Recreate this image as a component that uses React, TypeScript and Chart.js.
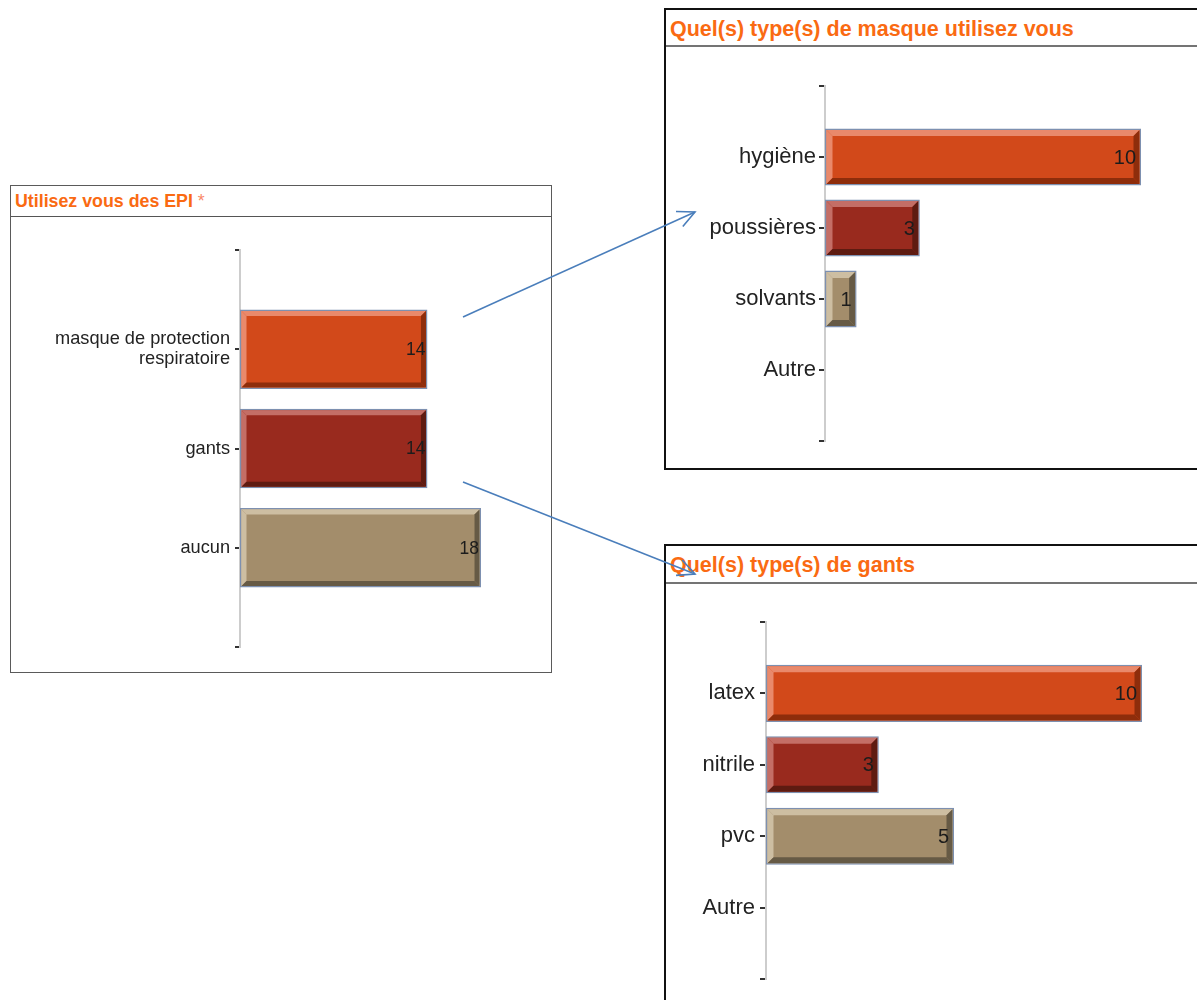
import React, { useEffect, useRef } from 'react';
import { Chart, registerables } from 'chart.js';

Chart.register(...registerables);

// ---------- data ----------
const epiTitle = 'Utilisez vous des EPI';
const epiCategories: (string | string[])[] = [['masque de protection', 'respiratoire'], 'gants', 'aucun'];
const epiValues = [14, 14, 18];

const masqueTitle = 'Quel(s) type(s) de masque utilisez vous';
const masqueCategories = ['hygiène', 'poussières', 'solvants', 'Autre'];
const masqueValues = [10, 3, 1, 0];

const gantsTitle = 'Quel(s) type(s) de gants';
const gantsCategories = ['latex', 'nitrile', 'pvc', 'Autre'];
const gantsValues = [10, 3, 5, 0];

// ---------- styles ----------
const FILL = ['#D2491A', '#992A1E', '#A38D6B', '#A38D6B'];
const LIGHT = ['#E9896B', '#C46E66', '#CDBEA2', '#CDBEA2'];
const DARK = ['#8E2D0B', '#5E1B11', '#665A45', '#665A45'];
const BAR_BORDER = '#7D90B0';
const FONT = '"Liberation Sans", Arial, Helvetica, sans-serif';
const TITLE_COLOR = '#FA6A12';

const bevelPlugin = {
  id: 'bevel',
  afterDatasetsDraw(chart: any, _args: any, opts: any) {
    const ctx = chart.ctx;
    const meta = chart.getDatasetMeta(0);
    const ds = chart.data.datasets[0];
    const b = opts.size;
    const bd = opts.border;
    meta.data.forEach((el: any, i: number) => {
      const p = el.getProps(['x', 'y', 'base', 'height'], true);
      const value = ds.data[i].x;
      const x0 = Math.min(p.base, p.x) + bd;
      const x1 = Math.max(p.base, p.x) - bd;
      const y0 = p.y - p.height / 2 + bd;
      const y1 = p.y + p.height / 2 - bd;
      if (x1 - x0 > 2 * b) {
        const poly = (pts: number[][], color: string) => {
          ctx.beginPath();
          ctx.moveTo(pts[0][0], pts[0][1]);
          for (let k = 1; k < pts.length; k++) ctx.lineTo(pts[k][0], pts[k][1]);
          ctx.closePath();
          ctx.fillStyle = color;
          ctx.fill();
        };
        ctx.save();
        poly([[x0, y0], [x1, y0], [x1 - b, y0 + b], [x0 + b, y0 + b]], LIGHT[i]);
        poly([[x0, y0], [x0 + b, y0 + b], [x0 + b, y1 - b], [x0, y1]], LIGHT[i]);
        poly([[x1, y0], [x1, y1], [x1 - b, y1 - b], [x1 - b, y0 + b]], DARK[i]);
        poly([[x0, y1], [x1, y1], [x1 - b, y1 - b], [x0 + b, y1 - b]], DARK[i]);
        ctx.restore();
      }
      if (value > 0) {
        ctx.save();
        ctx.font = `${opts.valueSize}px ${FONT}`;
        ctx.fillStyle = '#1c1c1c';
        ctx.textAlign = 'right';
        ctx.textBaseline = 'middle';
        ctx.fillText(String(value), Math.max(p.base, p.x) - opts.valuePad, p.y + 1);
        ctx.restore();
      }
    });
  },
};

type ChartProps = {
  categories: (string | string[])[];
  values: number[];
  left: number;
  top: number;
  width: number;
  height: number;
  axisWidth: number;
  padTop: number;
  padBottom: number;
  padRight: number;
  xMax: number;
  tickFont: number;
  tickLength: number;
  tickPadding: number;
  valueSize: number;
  valuePad: number;
  bevel: number;
};

function BarChart(props: ChartProps) {
  const ref = useRef<HTMLCanvasElement | null>(null);
  useEffect(() => {
    if (!ref.current) return;
    const cats = props.categories;
    const chart = new Chart(ref.current, {
      type: 'bar',
      data: {
        datasets: [
          {
            data: props.values.map((v, i) => ({ x: v, y: i })) as any,
            backgroundColor: FILL,
            borderColor: BAR_BORDER,
            borderWidth: 1.5,
            borderSkipped: false,
            categoryPercentage: 0.8,
            barPercentage: 1,
          },
        ],
      },
      options: {
        indexAxis: 'y',
        animation: false,
        responsive: false,
        devicePixelRatio: 1,
        layout: { padding: { left: 0, top: props.padTop, right: props.padRight, bottom: props.padBottom } },
        plugins: {
          legend: { display: false },
          tooltip: { enabled: false },
          bevel: { size: props.bevel, border: 1.5, valueSize: props.valueSize, valuePad: props.valuePad },
        } as any,
        scales: {
          x: { type: 'linear', display: false, min: 0, max: props.xMax },
          y: {
            type: 'linear',
            min: -1,
            max: cats.length,
            reverse: true,
            offset: false,
            afterFit: (s: any) => {
              s.width = props.axisWidth;
            },
            grid: {
              offset: false,
              drawOnChartArea: false,
              drawTicks: true,
              tickLength: props.tickLength,
              color: '#333',
              lineWidth: 2,
            },
            border: { display: true, color: '#cdcdcd', width: 2 },
            ticks: {
              stepSize: 1,
              autoSkip: false,
              padding: props.tickPadding,
              color: '#222',
              font: { family: FONT, size: props.tickFont, lineHeight: 1.12 },
              callback: (v: any) => {
                const n = Number(v);
                return Number.isInteger(n) && n >= 0 && n < cats.length ? (cats[n] as any) : '';
              },
            },
          },
        } as any,
      },
      plugins: [bevelPlugin],
    });
    return () => chart.destroy();
  }, []);
  return (
    <canvas
      ref={ref}
      width={props.width}
      height={props.height}
      style={{ position: 'absolute', left: props.left, top: props.top, width: props.width, height: props.height }}
    />
  );
}

function Panel(p: {
  left: number;
  top: number;
  width: number;
  height: number;
  border: string;
  headerHeight: number;
  headerLine: string;
  titleSize: number;
  titlePadTop: number;
  children: React.ReactNode;
}) {
  return (
    <div
      style={{
        position: 'absolute',
        left: p.left,
        top: p.top,
        width: p.width,
        height: p.height,
        border: p.border,
        boxSizing: 'border-box',
        background: '#fff',
      }}
    >
      <div
        style={{
          height: p.headerHeight,
          borderBottom: p.headerLine,
          boxSizing: 'border-box',
          paddingLeft: 4,
          paddingTop: p.titlePadTop,
          fontFamily: FONT,
          fontWeight: 'bold',
          fontSize: p.titleSize,
          lineHeight: `${p.headerHeight - p.titlePadTop - 2}px`,
          color: TITLE_COLOR,
          whiteSpace: 'nowrap',
        }}
      >
        {p.children}
      </div>
    </div>
  );
}

function arrowHead(x1: number, y1: number, x2: number, y2: number, len: number, ang: number) {
  const a = Math.atan2(y2 - y1, x2 - x1);
  const p1 = [x2 - len * Math.cos(a - ang), y2 - len * Math.sin(a - ang)];
  const p2 = [x2 - len * Math.cos(a + ang), y2 - len * Math.sin(a + ang)];
  return `${p1[0]},${p1[1]} ${x2},${y2} ${p2[0]},${p2[1]}`;
}

export default function App() {
  const arrows = [
    [463, 317, 695, 212],
    [463, 482, 695, 574],
  ];
  return (
    <div
      style={{
        position: 'absolute',
        left: 0,
        top: 0,
        width: 1197,
        height: 1000,
        overflow: 'hidden',
        background: '#fff',
      }}
    >
      <Panel
        left={10}
        top={185}
        width={542}
        height={488}
        border="1px solid #5a5a5a"
        headerHeight={31}
        headerLine="1px solid #555"
        titleSize={17.8}
        titlePadTop={1}
      >
        {epiTitle} <span style={{ fontWeight: 'normal', color: '#F98A6A' }}>*</span>
      </Panel>
      <Panel
        left={664}
        top={8}
        width={600}
        height={462}
        border="2px solid #111"
        headerHeight={37}
        headerLine="2px solid #747474"
        titleSize={21.5}
        titlePadTop={3}
      >
        {masqueTitle}
      </Panel>
      <Panel
        left={664}
        top={544}
        width={600}
        height={520}
        border="2px solid #111"
        headerHeight={38}
        headerLine="2px solid #747474"
        titleSize={21.5}
        titlePadTop={3}
      >
        {gantsTitle}
      </Panel>

      <BarChart
        categories={epiCategories}
        values={epiValues}
        left={11}
        top={217}
        width={539}
        height={454}
        axisWidth={229}
        padTop={33}
        padBottom={24}
        padRight={42.2}
        xMax={20}
        tickFont={18.2}
        tickLength={5}
        tickPadding={5}
        valueSize={17.5}
        valuePad={2}
        bevel={5}
      />
      <BarChart
        categories={masqueCategories}
        values={masqueValues}
        left={667}
        top={47}
        width={530}
        height={421}
        axisWidth={158}
        padTop={39}
        padBottom={27}
        padRight={24.4}
        xMax={11}
        tickFont={22}
        tickLength={6}
        tickPadding={3}
        valueSize={20}
        valuePad={5}
        bevel={6}
      />
      <BarChart
        categories={gantsCategories}
        values={gantsValues}
        left={667}
        top={583}
        width={530}
        height={417}
        axisWidth={99}
        padTop={39}
        padBottom={21}
        padRight={17.4}
        xMax={11}
        tickFont={22}
        tickLength={6}
        tickPadding={5}
        valueSize={20}
        valuePad={5}
        bevel={6}
      />

      <svg
        width={1197}
        height={1000}
        style={{ position: 'absolute', left: 0, top: 0, pointerEvents: 'none' }}
      >
        {arrows.map(([x1, y1, x2, y2], i) => (
          <g key={i} stroke="#4A7EBB" strokeWidth={1.6} fill="none">
            <line x1={x1} y1={y1} x2={x2} y2={y2} />
            <polyline points={arrowHead(x1, y1, x2, y2, 19, 0.45)} />
          </g>
        ))}
      </svg>
    </div>
  );
}
